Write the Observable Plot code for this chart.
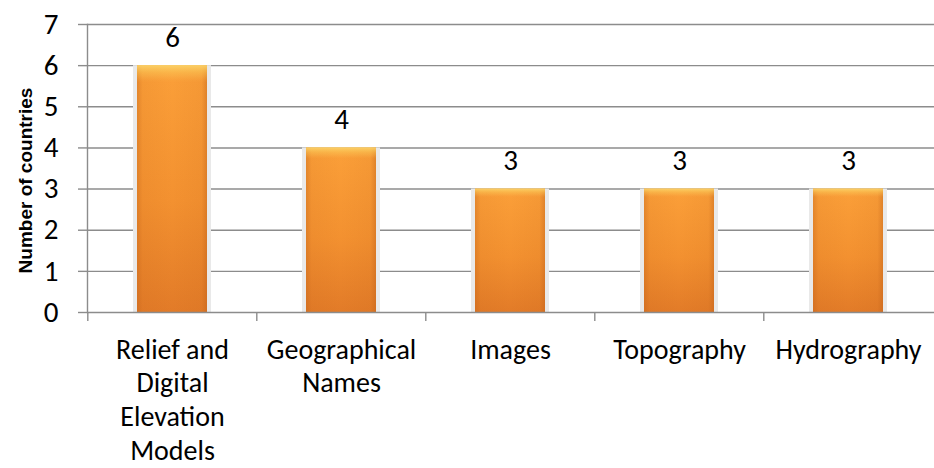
<!DOCTYPE html>
<html>
<head>
<meta charset="utf-8">
<script src="https://cdn.jsdelivr.net/npm/d3@7"></script>
<script src="https://cdn.jsdelivr.net/npm/@observablehq/plot@0.6"></script>
<style>
  html, body { margin: 0; padding: 0; background: #ffffff; }
  #chart svg { display: block; }
</style>
</head>
<body>
<div id="chart"></div>
<script>
const categories = ["Relief and Digital Elevation Models", "Geographical Names", "Images", "Topography", "Hydrography"];
const categoryLabels = ["Relief and\nDigital\nElevation\nModels", "Geographical\nNames", "Images", "Topography", "Hydrography"];
const values = [6, 4, 3, 3, 3];
const yTicks = [0, 1, 2, 3, 4, 5, 6, 7];
const yTitle = "Number of countries";

const data = categories.map((c, i) => ({category: c, label: categoryLabels[i], value: values[i]}));
const labelOf = new Map(data.map(d => [d.category, d.label]));

const W = 934, H = 468;
const mLeft = 87, mRight = 0, mTop = 24, mBottom = 156;
const step = (W - mLeft - mRight) / categories.length;
const font = "Carlito, Calibri, 'Open Sans', sans-serif";
const grid = "#8c8c8c";
const fs = 29;
const fsCat = 28;

const svg = Plot.plot({
  width: W,
  height: H,
  marginLeft: mLeft,
  marginRight: mRight,
  marginTop: mTop,
  marginBottom: mBottom,
  style: {fontFamily: font, fontSize: fs + "px", color: "#000", background: "#fff"},
  x: {domain: categories, paddingInner: 0.583, paddingOuter: 0.2915, axis: null},
  y: {domain: [0, 7], axis: null},
  marks: [
    Plot.gridY(yTicks.filter(d => d > 0), {stroke: grid, strokeOpacity: 1, strokeWidth: 1.4}),
    // soft shadow behind bars
    Plot.barY(data, {x: "category", y: "value", fill: "#e9e9e9", insetLeft: -4, insetRight: -4}),
    Plot.barY(data, {x: "category", y: "value", fill: "url(#barV)"}),
    Plot.barY(data, {x: "category", y: "value", fill: "url(#barH)"}),
    Plot.barY(data, {x: "category", y: "value", fill: "url(#barTop)"}),
    Plot.ruleY([0], {stroke: grid, strokeWidth: 1.4}),
    Plot.frame({anchor: "left", stroke: grid, strokeWidth: 1.4}),
    Plot.axisY({ticks: yTicks, tickSize: 9, tickPadding: 20, stroke: grid, strokeWidth: 1.4,
                fontSize: fs, label: null, tickFormat: d => String(d)}),
    // category boundary tick marks
    Plot.axisX({tickSize: 9, stroke: grid, strokeWidth: 1.4, tickFormat: () => "", dx: -step / 2, label: null}),
    // category labels
    Plot.axisX({tickSize: 0, tickPadding: 22, tickFormat: d => labelOf.get(d), lineHeight: 1.21,
                fontSize: fsCat, label: null}),
    // value labels
    Plot.text(data, {x: "category", y: "value", text: d => String(d.value), dy: -28, fontSize: fs, fill: "#000"}),
    // y axis title
    Plot.text([yTitle], {frameAnchor: "left", textAnchor: "middle", lineAnchor: "middle", rotate: -90,
                         dx: -62, dy: 12, fontSize: 19, fontWeight: "bold",
                         fontFamily: "'Liberation Sans', Arial, sans-serif", fill: "#000"})
  ]
});

// gradients for bars
const ns = "http://www.w3.org/2000/svg";
const defs = document.createElementNS(ns, "defs");
defs.innerHTML = `
  <linearGradient id="barV" x1="0" y1="0" x2="0" y2="1">
    <stop offset="0%" stop-color="#fbb14a"/>
    <stop offset="6%" stop-color="#fa9e38"/>
    <stop offset="55%" stop-color="#f39130"/>
    <stop offset="100%" stop-color="#e27b28"/>
  </linearGradient>
  <linearGradient id="barH" x1="0" y1="0" x2="1" y2="0">
    <stop offset="0%" stop-color="#b85a16" stop-opacity="0.35"/>
    <stop offset="8%" stop-color="#b85a16" stop-opacity="0.08"/>
    <stop offset="50%" stop-color="#b85a16" stop-opacity="0"/>
    <stop offset="92%" stop-color="#b85a16" stop-opacity="0.08"/>
    <stop offset="100%" stop-color="#b85a16" stop-opacity="0.4"/>
  </linearGradient>
  <linearGradient id="barTop" x1="0" y1="0" x2="0" y2="1" gradientUnits="objectBoundingBox">
    <stop offset="0%" stop-color="#fbd46a" stop-opacity="0.9"/>
    <stop offset="3%" stop-color="#fbc150" stop-opacity="0.5"/>
    <stop offset="7%" stop-color="#fbb14a" stop-opacity="0"/>
    <stop offset="100%" stop-color="#fbb14a" stop-opacity="0"/>
  </linearGradient>`;
svg.insertBefore(defs, svg.firstChild);

document.getElementById("chart").appendChild(svg);
</script>
</body>
</html>
